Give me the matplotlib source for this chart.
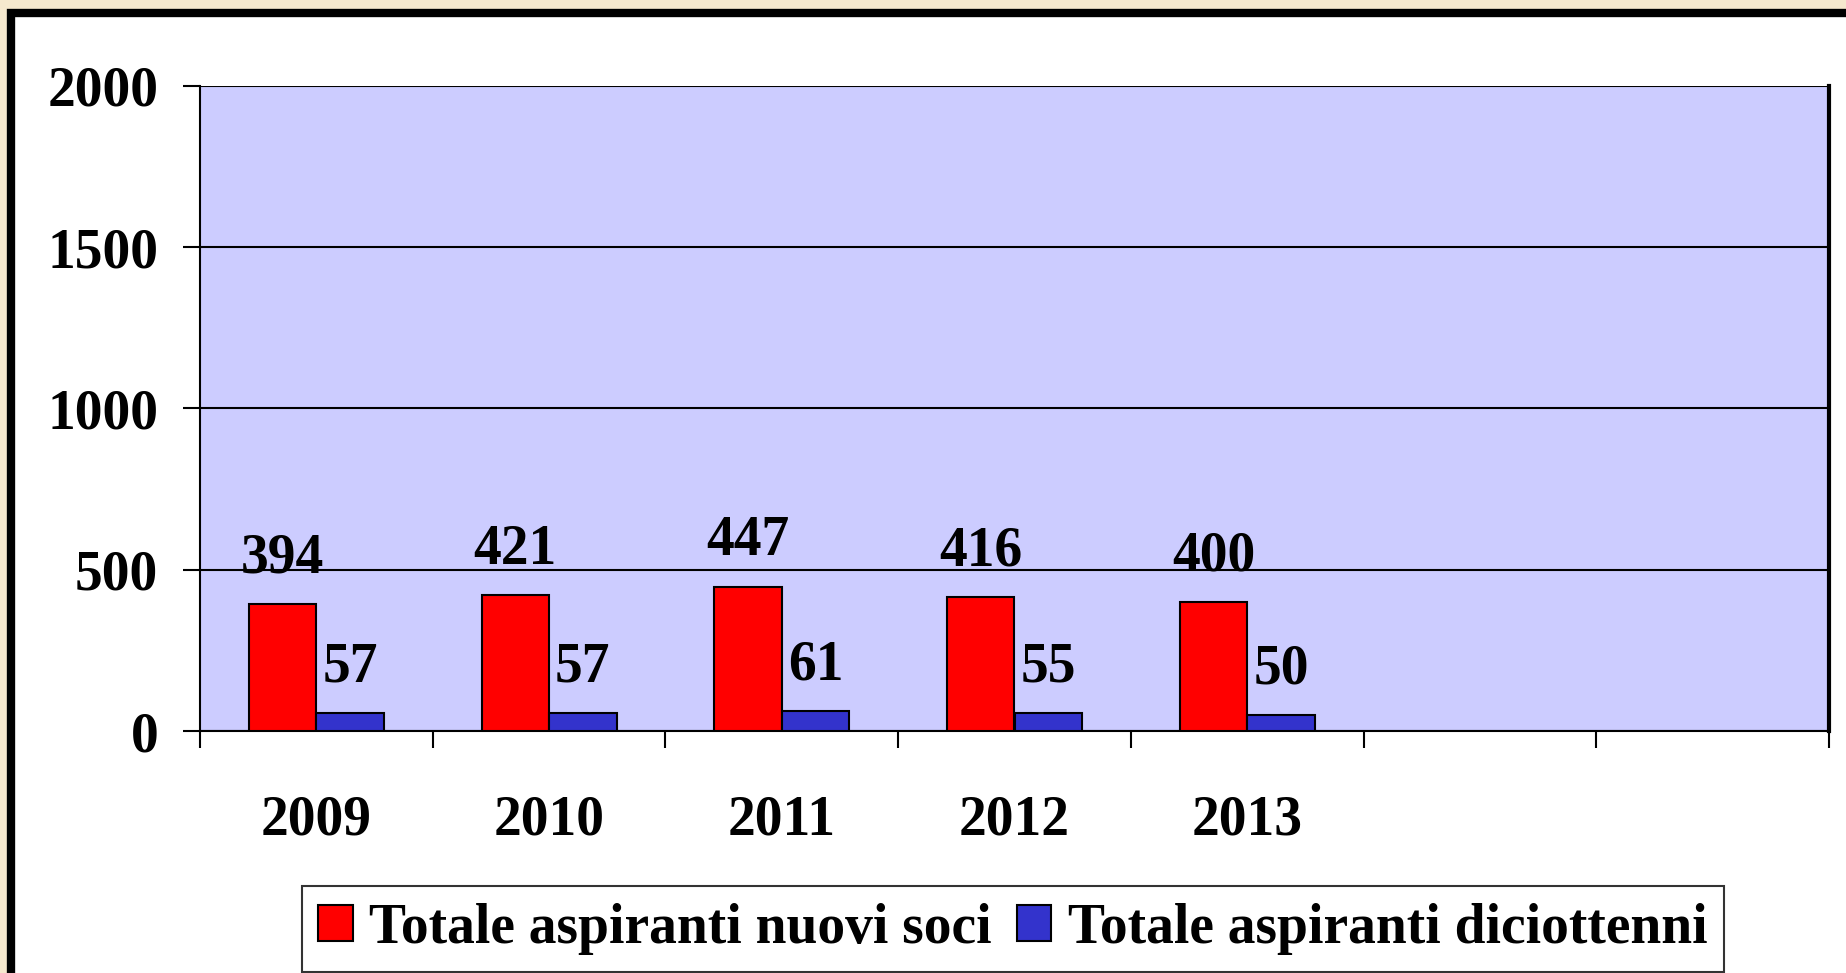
import matplotlib.pyplot as plt
import matplotlib.patches as mpatches
import numpy as np

years = ['2009', '2010', '2011', '2012', '2013', '', '']
nuovi_soci = [394, 421, 447, 416, 400]
diciottenni = [57, 57, 61, 55, 50]
labels = ['Totale aspiranti nuovi soci', 'Totale aspiranti diciottenni']

plt.rcParams['font.family'] = ['Liberation Serif', 'DejaVu Serif']
plt.rcParams['font.weight'] = 'bold'
fs = 40

W, H = 1846, 973
fig = plt.figure(figsize=(W / 100, H / 100), dpi=100)
fig.patch.set_facecolor('#F6E9CE')

# white panel with thick black border (clipped at right/bottom)
panel = mpatches.Rectangle((11 / W, -0.05), 1.1, 1 - 13 / H + 0.05,
                           transform=fig.transFigure, facecolor='white',
                           edgecolor='black', linewidth=6, zorder=-10)
fig.patches.append(panel)

ax = fig.add_axes([200 / W, 1 - 731 / H, (1829 - 200) / W, (731 - 86) / H])
ax.set_facecolor('#CCCCFF')

x = np.arange(len(nuovi_soci))
w = 0.29
b1 = ax.bar(x - w / 2, nuovi_soci, w, color='#FF0000', edgecolor='black',
            linewidth=1.5, label=labels[0], zorder=3)
b2 = ax.bar(x + w / 2, diciottenni, w, color='#3333CC', edgecolor='black',
            linewidth=1.5, label=labels[1], zorder=3)

for bars in (b1, b2):
    for r in bars:
        ax.annotate(str(int(r.get_height())),
                    (r.get_x() + r.get_width() / 2, r.get_height()),
                    xytext=(0, 14), textcoords='offset points',
                    ha='center', va='bottom', fontsize=fs, fontweight='bold',
                    zorder=4)

ax.set_xlim(-0.5, len(years) - 0.5)
ax.set_ylim(0, 2000)
ax.set_yticks([0, 500, 1000, 1500, 2000])
ax.yaxis.grid(True, color='black', linewidth=1.5)
ax.set_axisbelow(True)

ax.set_xticks(np.arange(len(years) + 1) - 0.5)
ax.set_xticklabels([])
ax.set_xticks(np.arange(len(years)), minor=True)
ax.set_xticklabels(years, minor=True, fontsize=fs, fontweight='bold')
ax.tick_params(axis='x', which='major', direction='out', length=12, width=1.5)
ax.tick_params(axis='x', which='minor', length=0, pad=46)
ax.tick_params(axis='y', direction='out', length=12, width=1.5, pad=18,
               labelsize=fs)
for t in ax.get_yticklabels():
    t.set_fontweight('bold')

ax.spines['top'].set_visible(False)
ax.spines['right'].set_linewidth(3)
for s in ('left', 'bottom'):
    ax.spines[s].set_linewidth(1.5)

leg = fig.legend(loc='center', bbox_to_anchor=(1013 / W, 1 - 929 / H),
                 ncol=2, frameon=True, fancybox=False,
                 handlelength=0.62, handleheight=0.62, handletextpad=0.3,
                 columnspacing=0.45, borderpad=0.3, borderaxespad=0,
                 edgecolor='black', prop={'size': fs, 'weight': 'bold'})
leg.get_frame().set_linewidth(1.5)

fig.savefig('out.png', dpi=100, facecolor=fig.get_facecolor())
